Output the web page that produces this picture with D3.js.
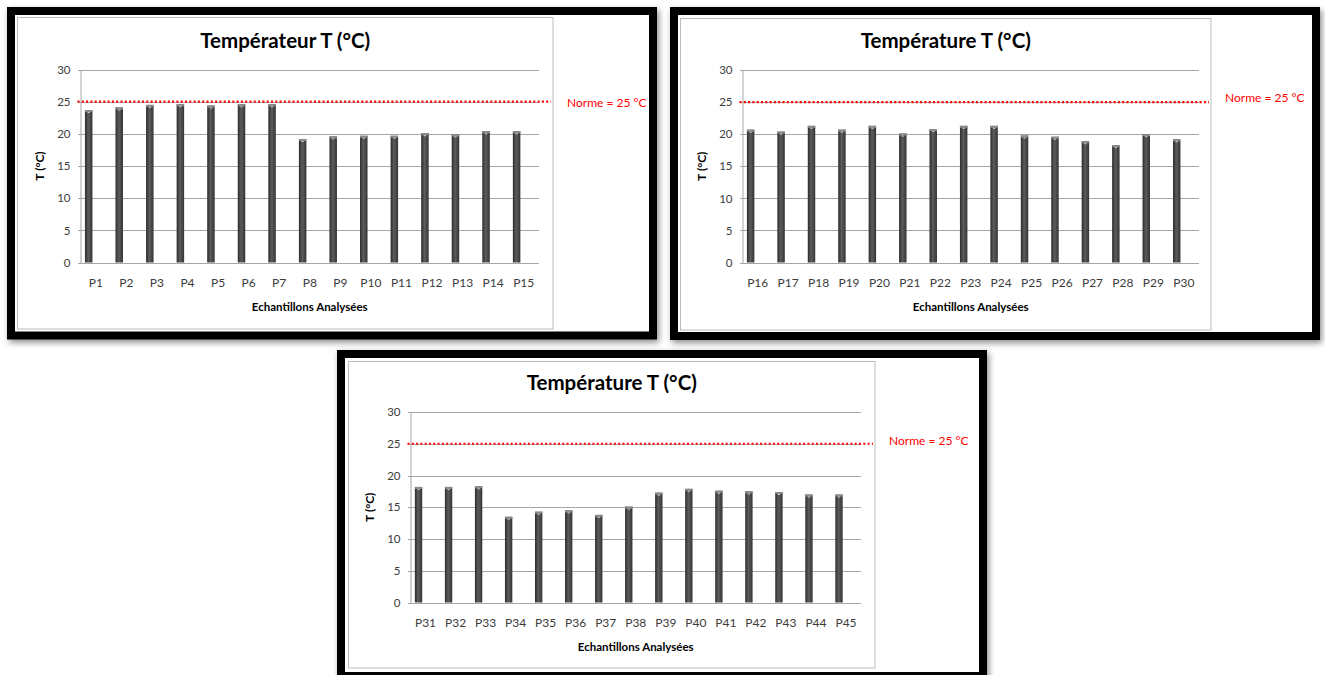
<!DOCTYPE html>
<html>
<head>
<meta charset="utf-8">
<script src="https://cdn.jsdelivr.net/npm/d3@7"></script>
<style>
  html, body { margin: 0; padding: 0; background: #ffffff; }
  svg { display: block; }
  text { font-family: Lato, "Open Sans", "DejaVu Sans", sans-serif; }
</style>
</head>
<body>
<svg id="chart" width="1325" height="675"></svg>
<script>
// Sample temperatures (°C), three panels of fifteen points each
const categories1 = ["P1","P2","P3","P4","P5","P6","P7","P8","P9","P10","P11","P12","P13","P14","P15"];
const values1 = [23.7, 24.1, 24.5, 24.6, 24.4, 24.6, 24.6, 19.2, 19.6, 19.7, 19.7, 20.1, 19.9, 20.4, 20.4];

const categories2 = ["P16","P17","P18","P19","P20","P21","P22","P23","P24","P25","P26","P27","P28","P29","P30"];
const values2 = [20.7, 20.4, 21.3, 20.7, 21.3, 20.1, 20.8, 21.3, 21.3, 19.8, 19.6, 18.9, 18.3, 20.0, 19.2];

const categories3 = ["P31","P32","P33","P34","P35","P36","P37","P38","P39","P40","P41","P42","P43","P44","P45"];
const values3 = [18.2, 18.2, 18.3, 13.5, 14.3, 14.5, 13.8, 15.1, 17.3, 17.9, 17.6, 17.5, 17.4, 17.0, 17.0];

const titles = ["Températeur T (°C)", "Température T (°C)", "Température T (°C)"];
const yTicks = [0, 5, 10, 15, 20, 25, 30];
const yDomain = [0, 30];
const normeValue = 25;
const normeLabel = "Norme = 25 °C";
const xAxisTitle = "Echantillons Analysées";
const yAxisTitle = "T (°C)";

// Panel geometry: black frame, grey chart box, plot area
const panels = [
  { cats: categories1, vals: values1, title: titles[0],
    frame: [7, 7, 657, 339.5], box: [17.5, 17.5, 553, 329],
    plot: [80.5, 69.5, 539, 262.5], labelDy: 2 },
  { cats: categories2, vals: values2, title: titles[1],
    frame: [670, 7, 1320, 340], box: [680.5, 18.5, 1211, 330],
    plot: [742.5, 70, 1199, 262.5], labelDy: -3 },
  { cats: categories3, vals: values3, title: titles[2],
    frame: [337, 350, 987, 680], box: [348.5, 361.5, 875, 668],
    plot: [410.5, 412, 861, 602.5], labelDy: -2 }
];

const svg = d3.select("#chart");
const defs = svg.append("defs");

const shadow = defs.append("filter").attr("id", "frameShadow")
  .attr("x", "-5%").attr("y", "-5%").attr("width", "110%").attr("height", "115%");
shadow.append("feDropShadow")
  .attr("dx", 2).attr("dy", 3).attr("stdDeviation", 3)
  .attr("flood-color", "#000").attr("flood-opacity", 0.45);

const barGrad = defs.append("linearGradient").attr("id", "barFill")
  .attr("x1", "0%").attr("x2", "100%").attr("y1", "0%").attr("y2", "0%");
barGrad.append("stop").attr("offset", "0%").attr("stop-color", "#2c2c2c");
barGrad.append("stop").attr("offset", "45%").attr("stop-color", "#5c5c5c");
barGrad.append("stop").attr("offset", "100%").attr("stop-color", "#343434");

panels.forEach(p => {
  const [fx0, fy0, fx1, fy1] = p.frame;
  const [bx0, by0, bx1, by1] = p.box;
  const [px0, py0, px1, py1] = p.plot;
  const g = svg.append("g");

  // thick black frame with a soft shadow
  g.append("rect")
    .attr("x", fx0 + 4).attr("y", fy0 + 4)
    .attr("width", fx1 - fx0 - 8).attr("height", fy1 - fy0 - 8)
    .attr("fill", "#ffffff").attr("stroke", "#000000").attr("stroke-width", 8)
    .attr("filter", "url(#frameShadow)");

  // chart box
  g.append("rect")
    .attr("x", bx0).attr("y", by0)
    .attr("width", bx1 - bx0).attr("height", by1 - by0)
    .attr("fill", "#ffffff").attr("stroke", "#bcbcbc").attr("stroke-width", 1);

  const x = d3.scaleBand().domain(p.cats).range([px0, px1]).paddingInner(0).paddingOuter(0);
  const y = d3.scaleLinear().domain(yDomain).range([py1, py0]);
  const plotW = px1 - px0;

  // value axis with gridlines
  const yAxis = g.append("g").attr("transform", `translate(${px0},0)`)
    .call(d3.axisLeft(y).tickValues(yTicks).tickSizeInner(-plotW).tickSizeOuter(0).tickPadding(10));
  yAxis.select(".domain").attr("stroke", "#a6a6a6");
  yAxis.selectAll(".tick line")
    .attr("x1", -3).attr("x2", plotW)
    .attr("stroke", "#a6a6a6").attr("shape-rendering", "crispEdges");
  yAxis.selectAll(".tick text")
    .attr("x", -10).attr("fill", "#3c3c3c")
    .style("font-size", "11.5px");

  // category axis labels
  const xAxis = g.append("g").attr("transform", `translate(0,${py1})`)
    .call(d3.axisBottom(x).tickSize(0).tickPadding(16));
  xAxis.select(".domain").remove();
  xAxis.selectAll(".tick text").attr("fill", "#3c3c3c").style("font-size", "12px");

  // bars
  const bw = x.bandwidth();
  const bars = g.append("g");
  p.cats.forEach((c, i) => {
    const v = p.vals[i];
    const bx = x(c) + bw * 0.145;
    const w = bw * 0.245;
    bars.append("rect")
      .attr("x", bx).attr("y", y(v))
      .attr("width", w).attr("height", y(0) - y(v))
      .attr("fill", "url(#barFill)");
    bars.append("rect")
      .attr("x", bx).attr("y", y(v))
      .attr("width", w).attr("height", 2)
      .attr("fill", "#8c8c8c");
    bars.append("rect")
      .attr("x", bx + w * 0.35).attr("y", y(v) + 2)
      .attr("width", w * 0.3).attr("height", 1)
      .attr("fill", "#cfcfcf");
  });

  // norm line and its label
  const ny = y(normeValue);
  g.append("line")
    .attr("x1", px0 - 3).attr("x2", bx1 - 2)
    .attr("y1", ny).attr("y2", ny)
    .attr("stroke", "#ff0000").attr("stroke-width", 2.2)
    .attr("stroke-dasharray", "2,2.3");
  g.append("text")
    .attr("x", bx1 + 14).attr("y", ny + p.labelDy)
    .attr("dominant-baseline", "middle")
    .attr("fill", "#ff0000")
    .style("font-size", "12px")
    .text(normeLabel);

  // title
  g.append("text")
    .attr("x", (bx0 + bx1) / 2).attr("y", py0 - 22)
    .attr("text-anchor", "middle")
    .attr("fill", "#000")
    .style("font-size", "20.5px").style("font-weight", "bold")
    .text(p.title);

  // axis titles
  g.append("text")
    .attr("x", (px0 + px1) / 2).attr("y", py1 + 48)
    .attr("text-anchor", "middle")
    .attr("fill", "#000")
    .style("font-size", "11.5px").style("font-weight", "bold")
    .text(xAxisTitle);

  g.append("text")
    .attr("transform", `translate(${px0 - 40},${(py0 + py1) / 2}) rotate(-90)`)
    .attr("text-anchor", "middle")
    .attr("dominant-baseline", "middle")
    .attr("fill", "#000")
    .style("font-size", "12px").style("font-weight", "bold")
    .text(yAxisTitle);
});
</script>
</body>
</html>
